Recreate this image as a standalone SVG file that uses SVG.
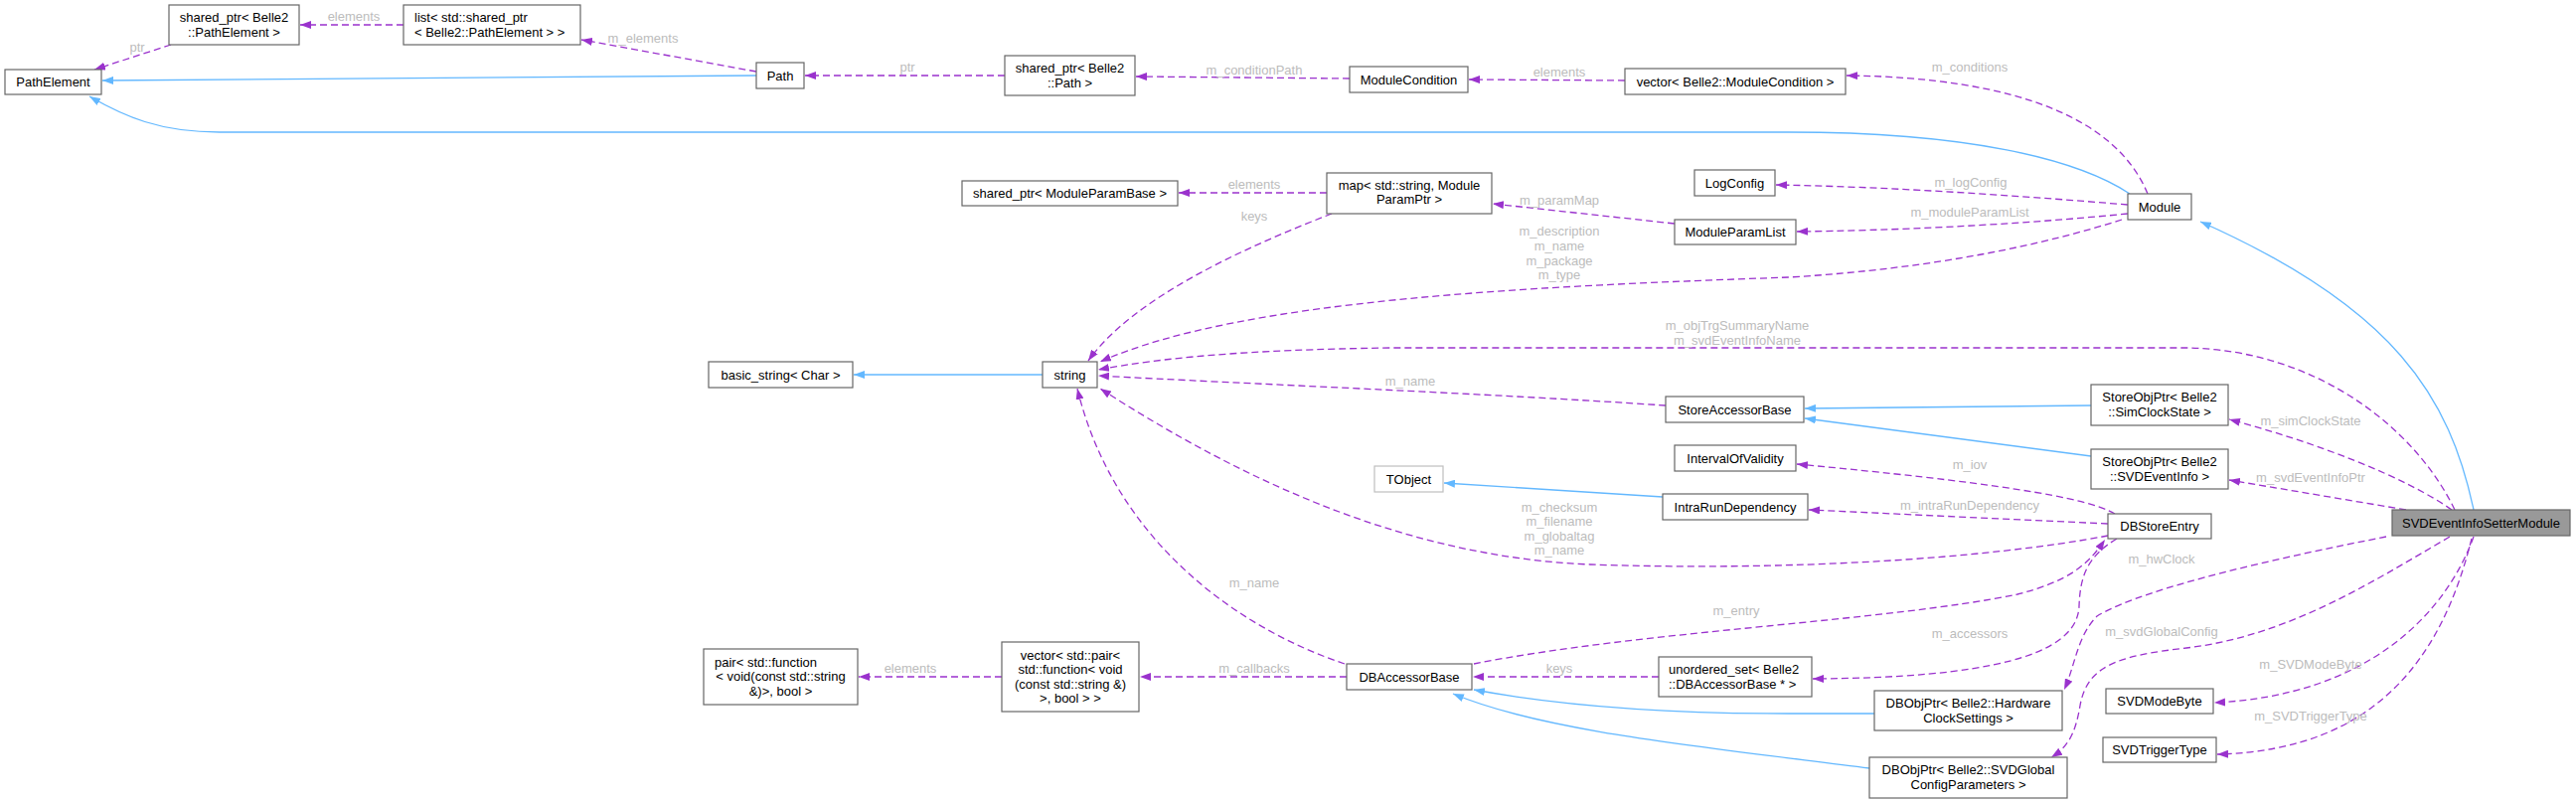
<svg xmlns="http://www.w3.org/2000/svg" width="2592" height="808" viewBox="0 0 2592 808">
<defs>
<style>
text{font-family:"Liberation Sans",Arial,Helvetica,sans-serif;font-size:13px;fill:#000}
.node rect{fill:#fff;stroke:#666;stroke-width:1.2}
.node.ext rect{stroke:#bfbfbf}
.node.main rect{fill:#999}
.c{text-anchor:middle}
.s{text-anchor:start}
.lbl text{fill:#bcbcbc;text-anchor:middle}
.u{fill:none;stroke:#9a32cd;stroke-width:1.3;stroke-dasharray:7,4;marker-end:url(#ap)}
.i{fill:none;stroke:#63b8ff;stroke-width:1.3;marker-end:url(#ab)}
</style>
<marker id="ap" viewBox="0 0 11 8" refX="11" refY="4" markerWidth="11" markerHeight="8" markerUnits="userSpaceOnUse" orient="auto"><path d="M0,0 L11,4 L0,8 z" fill="#9a32cd"/></marker>
<marker id="ab" viewBox="0 0 11 8" refX="11" refY="4" markerWidth="11" markerHeight="8" markerUnits="userSpaceOnUse" orient="auto"><path d="M0,0 L11,4 L0,8 z" fill="#63b8ff"/></marker>
</defs>
<rect width="2592" height="808" fill="#fff"/>

<g id="connectors">
<path class="i" d="M761,76 L103,81"/>
<path class="i" d="M2143,195 C2090,160 1980,133 1800,133 L221,133 C160,133 125,117 90,97"/>
<path class="i" d="M2489,513 C2465,400 2410,310 2214,223"/>
<path class="i" d="M1049,377 L859,377"/>
<path class="i" d="M2104,408 L1816,411"/>
<path class="i" d="M2104,459 L1816,421"/>
<path class="i" d="M1673,500 L1453,486"/>
<path class="i" d="M1886,718 L1800,718 C1700,718 1580,712 1483,694"/>
<path class="i" d="M1881,773 C1700,750 1550,735 1462,698"/>

<path class="u" d="M172,45 L95,70"/>
<path class="u" d="M406,25 L302,25"/>
<path class="u" d="M761,72 L585,40"/>
<path class="u" d="M1011,76 L810,76"/>
<path class="u" d="M1358,79 L1143,77"/>
<path class="u" d="M1635,81 L1478,80"/>
<path class="u" d="M2161,195 C2130,120 2030,78 1858,76"/>
<path class="u" d="M2141,206 C2020,196 1900,188 1787,186"/>
<path class="u" d="M2141,215 C2020,227 1900,232 1808,233"/>
<path class="u" d="M2135,221 C2060,245 1950,270 1800,279 C1550,288 1250,300 1107,364"/>
<path class="u" d="M1685,225 L1502,205"/>
<path class="u" d="M1335,194 L1186,194"/>
<path class="u" d="M1340,215 C1250,250 1140,300 1095,363"/>
<path class="u" d="M2470,513 C2430,430 2330,352 2200,350 L1400,350 C1250,352 1170,360 1105,372"/>
<path class="u" d="M1676,408 C1500,396 1250,386 1105,378"/>
<path class="u" d="M2467,513 C2420,480 2330,445 2243,422"/>
<path class="u" d="M2421,513 L2243,483"/>
<path class="u" d="M2128,517 C2100,500 2000,485 1808,467"/>
<path class="u" d="M2121,527 L1820,513"/>
<path class="u" d="M2121,539 C2000,562 1800,575 1600,568 C1400,560 1230,470 1107,391"/>
<path class="u" d="M1353,668 C1240,630 1120,540 1084,391"/>
<path class="u" d="M1355,681 L1147,681"/>
<path class="u" d="M1008,681 L864,681"/>
<path class="u" d="M1669,681 L1482,681"/>
<path class="u" d="M1483,668 C1650,635 1900,625 2030,598 C2080,585 2100,570 2118,543"/>
<path class="u" d="M2130,542 C2100,560 2093,580 2092,610 C2090,660 2000,682 1824,683"/>
<path class="u" d="M2401,540 C2300,560 2160,590 2110,620 C2090,640 2088,670 2077,694"/>
<path class="u" d="M2465,540 C2380,590 2300,640 2200,652 C2130,660 2100,670 2093,710 C2088,740 2080,752 2064,762"/>
<path class="u" d="M2489,540 C2460,620 2380,700 2228,707"/>
<path class="u" d="M2487,542 C2460,650 2400,755 2231,759"/>
</g>

<g id="edge-labels" class="lbl">
<text x="138" y="52">ptr</text>
<text x="356" y="21">elements</text>
<text x="647" y="43">m_elements</text>
<text x="913" y="72">ptr</text>
<text x="1262" y="75">m_conditionPath</text>
<text x="1569" y="77">elements</text>
<text x="1982" y="72">m_conditions</text>
<text x="1983" y="188">m_logConfig</text>
<text x="1982" y="218">m_moduleParamList</text>
<text x="1569" y="206">m_paramMap</text>
<text x="1262" y="190">elements</text>
<text x="1262" y="222">keys</text>
<text x="1569" y="237">m_description</text>
<text x="1569" y="252">m_name</text>
<text x="1569" y="267">m_package</text>
<text x="1569" y="281">m_type</text>
<text x="1748" y="332">m_objTrgSummaryName</text>
<text x="1748" y="347">m_svdEventInfoName</text>
<text x="1419" y="388">m_name</text>
<text x="2325" y="428">m_simClockState</text>
<text x="2325" y="485">m_svdEventInfoPtr</text>
<text x="1982" y="472">m_iov</text>
<text x="1982" y="513">m_intraRunDependency</text>
<text x="1569" y="515">m_checksum</text>
<text x="1569" y="529">m_filename</text>
<text x="1569" y="544">m_globaltag</text>
<text x="1569" y="558">m_name</text>
<text x="1262" y="591">m_name</text>
<text x="1747" y="619">m_entry</text>
<text x="2175" y="567">m_hwClock</text>
<text x="1982" y="642">m_accessors</text>
<text x="2175" y="640">m_svdGlobalConfig</text>
<text x="1262" y="677">m_callbacks</text>
<text x="916" y="677">elements</text>
<text x="1569" y="677">keys</text>
<text x="2325" y="673">m_SVDModeByte</text>
<text x="2325" y="725">m_SVDTriggerType</text>
</g>

<g id="n-PathElement" class="node"><rect x="5" y="70" width="97" height="25"/><text class="c" x="53.5" y="87">PathElement</text></g>
<g id="n-SPPathElement" class="node"><rect x="170" y="5" width="131" height="40"/><text class="c" x="235.5" y="22">shared_ptr&lt; Belle2</text><text class="c" x="235.5" y="37">::PathElement &gt;</text></g>
<g id="n-ListSP" class="node"><rect x="406" y="5" width="178" height="40"/><text class="s" x="417" y="22">list&lt; std::shared_ptr</text><text class="s" x="417" y="37">&lt; Belle2::PathElement &gt; &gt;</text></g>
<g id="n-Path" class="node"><rect x="761" y="63" width="48" height="26"/><text class="c" x="785" y="80.5">Path</text></g>
<g id="n-SPPath" class="node"><rect x="1011" y="56" width="131" height="40"/><text class="c" x="1076.5" y="73">shared_ptr&lt; Belle2</text><text class="c" x="1076.5" y="88">::Path &gt;</text></g>
<g id="n-ModuleCondition" class="node"><rect x="1358" y="67" width="119" height="26"/><text class="c" x="1417.5" y="84.5">ModuleCondition</text></g>
<g id="n-VecModuleCondition" class="node"><rect x="1635" y="69" width="222" height="26"/><text class="c" x="1746" y="86.5">vector&lt; Belle2::ModuleCondition &gt;</text></g>
<g id="n-Module" class="node"><rect x="2141" y="195" width="64" height="26"/><text class="c" x="2173" y="212.5">Module</text></g>
<g id="n-LogConfig" class="node"><rect x="1705" y="171" width="81" height="26"/><text class="c" x="1745.5" y="188.5">LogConfig</text></g>
<g id="n-ModuleParamList" class="node"><rect x="1685" y="221" width="122" height="25"/><text class="c" x="1746" y="238">ModuleParamList</text></g>
<g id="n-Map" class="node"><rect x="1335" y="174" width="166" height="41"/><text class="c" x="1418" y="190.5">map&lt; std::string, Module</text><text class="c" x="1418" y="205">ParamPtr &gt;</text></g>
<g id="n-SPModuleParamBase" class="node"><rect x="968" y="182" width="217" height="25"/><text class="c" x="1076.5" y="199">shared_ptr&lt; ModuleParamBase &gt;</text></g>
<g id="n-BasicString" class="node"><rect x="713" y="364" width="145" height="26"/><text class="c" x="785.5" y="381.5">basic_string&lt; Char &gt;</text></g>
<g id="n-String" class="node"><rect x="1049" y="364" width="55" height="26"/><text class="c" x="1076.5" y="381.5">string</text></g>
<g id="n-StoreAccessorBase" class="node"><rect x="1676" y="399" width="139" height="26"/><text class="c" x="1745.5" y="416.5">StoreAccessorBase</text></g>
<g id="n-SOPSimClockState" class="node"><rect x="2104" y="387" width="138" height="41"/><text class="c" x="2173" y="404">StoreObjPtr&lt; Belle2</text><text class="c" x="2173" y="419">::SimClockState &gt;</text></g>
<g id="n-SOPSVDEventInfo" class="node"><rect x="2104" y="452" width="138" height="40"/><text class="c" x="2173" y="469">StoreObjPtr&lt; Belle2</text><text class="c" x="2173" y="484">::SVDEventInfo &gt;</text></g>
<g id="n-IntervalOfValidity" class="node"><rect x="1685" y="448" width="122" height="26"/><text class="c" x="1746" y="465.5">IntervalOfValidity</text></g>
<g id="n-TObject" class="node ext"><rect x="1383" y="469" width="69" height="26"/><text class="c" x="1417.5" y="486.5">TObject</text></g>
<g id="n-IntraRunDependency" class="node"><rect x="1673" y="497" width="146" height="26"/><text class="c" x="1746" y="514.5">IntraRunDependency</text></g>
<g id="n-DBStoreEntry" class="node"><rect x="2121" y="517" width="104" height="25"/><text class="c" x="2173" y="534">DBStoreEntry</text></g>
<g id="n-SVDEventInfoSetterModule" class="node main"><rect x="2407" y="513" width="179" height="26"/><text class="c" x="2496.5" y="530.5">SVDEventInfoSetterModule</text></g>
<g id="n-Pair" class="node"><rect x="708" y="653" width="155" height="56"/><text class="s" x="719" y="670.5">pair&lt; std::function</text><text class="c" x="785.5" y="684.5">&lt; void(const std::string</text><text class="c" x="785.5" y="699.5">&amp;)&gt;, bool &gt;</text></g>
<g id="n-VecPair" class="node"><rect x="1008" y="646" width="138" height="70"/><text class="c" x="1077" y="663.5">vector&lt; std::pair&lt;</text><text class="c" x="1077" y="677.5">std::function&lt; void</text><text class="c" x="1077" y="692.5">(const std::string &amp;)</text><text class="c" x="1077" y="706.5">&gt;, bool &gt; &gt;</text></g>
<g id="n-DBAccessorBase" class="node"><rect x="1355" y="668" width="126" height="26"/><text class="c" x="1418" y="685.5">DBAccessorBase</text></g>
<g id="n-UnorderedSet" class="node"><rect x="1669" y="661" width="154" height="40"/><text class="s" x="1679" y="678">unordered_set&lt; Belle2</text><text class="s" x="1679" y="693">::DBAccessorBase * &gt;</text></g>
<g id="n-DBObjPtrHW" class="node"><rect x="1886" y="695" width="189" height="40"/><text class="c" x="1980.5" y="712">DBObjPtr&lt; Belle2::Hardware</text><text class="c" x="1980.5" y="727">ClockSettings &gt;</text></g>
<g id="n-DBObjPtrSVDGlobal" class="node"><rect x="1881" y="762" width="199" height="41"/><text class="c" x="1980.5" y="779">DBObjPtr&lt; Belle2::SVDGlobal</text><text class="c" x="1980.5" y="794">ConfigParameters &gt;</text></g>
<g id="n-SVDModeByte" class="node"><rect x="2119" y="693" width="108" height="25"/><text class="c" x="2173" y="710">SVDModeByte</text></g>
<g id="n-SVDTriggerType" class="node"><rect x="2116" y="742" width="114" height="25"/><text class="c" x="2173" y="759">SVDTriggerType</text></g>
</svg>
